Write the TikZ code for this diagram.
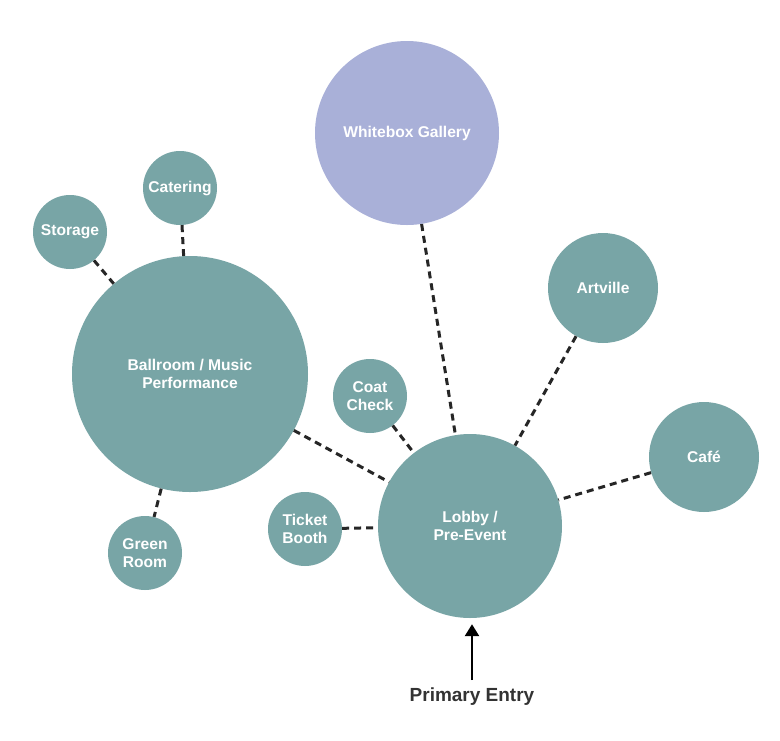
\documentclass[tikz,border=0pt]{standalone}
\usepackage{fontspec}
\setmainfont{Liberation Sans}
\usetikzlibrary{arrows.meta}
\definecolor{teal1}{HTML}{78A5A6}
\definecolor{lav}{HTML}{A9B0D8}
\definecolor{darktxt}{HTML}{333333}
\tikzset{
  room/.style={circle, fill=teal1, draw=none, inner sep=0pt, text=white, font=\bfseries\fontsize{15.6}{18}\selectfont, align=center},
  link/.style={line width=3pt, draw=black!85, dash pattern=on 7pt off 5pt},
}
\begin{document}
\begin{tikzpicture}[x=1pt,y=-1pt]
\useasboundingbox[fill=white] (0,0) rectangle (780,740);
\node[room, fill=lav, minimum size=184pt] (wb) at (407,133) {Whitebox Gallery};
\node[room, minimum size=74pt] (cat) at (180,188) {Catering};
\node[room, minimum size=74pt] (sto) at (70,232) {Storage};
\node[room, minimum size=236pt] (ball) at (190,374) {Ballroom / Music\\Performance};
\node[room, minimum size=110pt] (art) at (603,288) {Artville};
\node[room, minimum size=74pt] (coat) at (370,396) {Coat\\Check};
\node[room, minimum size=110pt] (cafe) at (704,457) {Café};
\node[room, minimum size=184pt] (lob) at (470,526) {Lobby /\\Pre-Event};
\node[room, minimum size=74pt] (tick) at (305,529) {Ticket\\Booth};
\node[room, minimum size=74pt] (green) at (145,553) {Green\\Room};
\node[text=darktxt, font=\bfseries\fontsize{19}{21}\selectfont] (entry) at (472,697) {Primary Entry};
\coordinate (arrstart) at (472,680);
\draw[link] (cat) -- (ball);
\draw[link] (sto) -- (ball);
\draw[link] (ball) -- (green);
\draw[link] (ball) -- (lob);
\draw[link] (coat) -- (lob);
\draw[link] (tick) -- (lob);
\draw[link] (wb) -- (lob);
\draw[link] (art) -- (lob);
\draw[link] (cafe) -- (lob);
\draw[line width=2.5pt, -{Triangle[length=12pt,width=14pt]}] (arrstart) -- ([yshift=-6pt]arrstart |- lob.south);
\end{tikzpicture}
\end{document}
